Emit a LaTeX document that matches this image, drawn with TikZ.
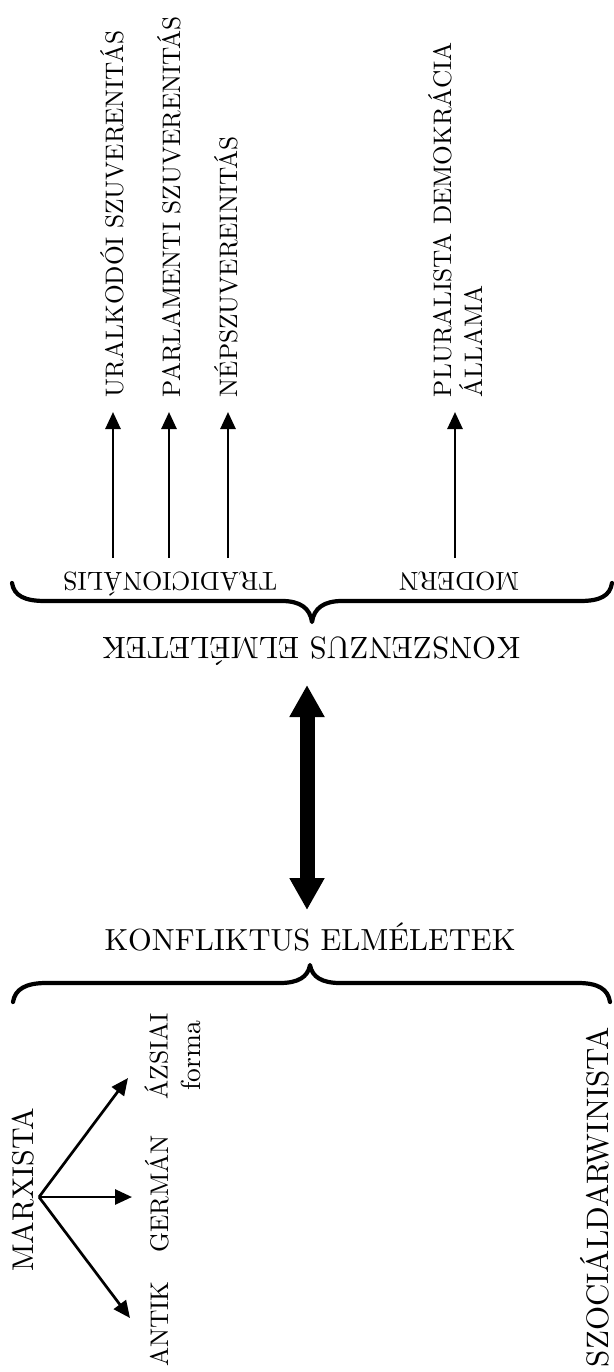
\documentclass[tikz,border=0pt]{standalone}
\usepackage{fontspec}
\setmainfont{lmroman10-regular.otf}
\usetikzlibrary{arrows.meta}
\begin{document}
\begin{tikzpicture}[x=1pt,y=-1pt,
  lbl/.style={inner sep=0pt, outer sep=0pt},
  uplabel/.style={lbl, rotate=90, anchor=base west, font=\fontsize{25.3}{31}\selectfont},
  flipped/.style={lbl, rotate=180, anchor=base},
  sidelabel/.style={lbl, rotate=90, anchor=base, font=\fontsize{25.5}{33}\selectfont},
  thinarrow/.style={line width=2.7pt, -{Triangle[length=17pt,width=15pt]}},
  bigarrow/.style={line width=15pt, {Triangle[length=32pt,width=33pt]}-{Triangle[length=32pt,width=33pt]}},
  braceline/.style={line width=4.2pt, line cap=round, line join=round},
]
\useasboundingbox (0,0) rectangle (613,1372);

% ---- consensus theories: upward branches ----
\node[uplabel] (ural) at (123,397) {URALKODÓI SZUVERENITÁS};
\node[uplabel] (parl) at (180,397) {PARLAMENTI SZUVERENITÁS};
\node[uplabel] (nep)  at (237,397) {NÉPSZUVEREINITÁS};
\node[uplabel, anchor=south west, align=left] (plur) at (482,397) {PLURALISTA DEMOKRÁCIA\\ÁLLAMA};

\coordinate (t1) at (113,558);
\coordinate (t2) at (169,558);
\coordinate (t3) at (228,558);
\coordinate (m1) at (455,558);

\draw[thinarrow, shorten >=15pt] (t1) -- (t1 |- ural.west);
\draw[thinarrow, shorten >=15pt] (t2) -- (t2 |- parl.west);
\draw[thinarrow, shorten >=15pt] (t3) -- (t3 |- nep.west);
\draw[thinarrow, shorten >=15pt] (m1) -- (m1 |- plur.south west);

\node[flipped, font=\fontsize{26}{30}\selectfont] (trad) at (170,572) {TRADICIONÁLIS};
\node[flipped, font=\fontsize{26}{30}\selectfont] (modern) at (459,572) {MODERN};

% upper brace, tip pointing down
\draw[braceline] (12,583) .. controls (14,596) and (25,601) .. (45,601)
  -- (282,601) .. controls (300,601) and (310,608) .. (312,622)
  .. controls (314,608) and (324,601) .. (342,601)
  -- (580,601) .. controls (600,601) and (610,596) .. (612,583);

\node[flipped, font=\fontsize{30.9}{36}\selectfont] (konsz) at (311,637) {KONSZENZUS ELMÉLETEK};

% ---- mutual relation ----
\coordinate (ktop) at (307,685);
\coordinate (kbot) at (307,910);
\draw[bigarrow] (ktop) -- (kbot);

% ---- conflict theories ----
\node[lbl, anchor=base, font=\fontsize{30.5}{36}\selectfont] (konf) at (310,950) {KONFLIKTUS ELMÉLETEK};

% lower brace, tip pointing up
\draw[braceline] (13,1002) .. controls (15,989) and (26,983) .. (46,983)
  -- (280,983) .. controls (298,983) and (308,977) .. (310,965)
  .. controls (312,977) and (322,983) .. (340,983)
  -- (578,983) .. controls (598,983) and (608,989) .. (610,1002);

\node[lbl, rotate=90, anchor=base, font=\fontsize{30}{36}\selectfont] (marx) at (33,1190) {MARXISTA};
\node[sidelabel] (antik) at (168,1324) {ANTIK};
\node[sidelabel] (german) at (168,1194) {GERMÁN};
\node[sidelabel, anchor=south, align=center] (azsiai) at (201,1056) {ÁZSIAI\\\fontsize{27.5}{33}\selectfont forma};

\coordinate (mx) at (39,1197);
\coordinate (azEnd) at (128,1078);
\coordinate (geEnd) at (132,1197);
\coordinate (anEnd) at (130,1318);
\draw[thinarrow] (mx) -- (azEnd);
\draw[thinarrow] (mx) -- (geEnd);
\draw[thinarrow] (mx) -- (anEnd);

\node[lbl, rotate=90, anchor=base west, font=\fontsize{31}{36}\selectfont] (szoc) at (608,1367) {SZOCIÁLDARWINISTA};
\end{tikzpicture}
\end{document}
